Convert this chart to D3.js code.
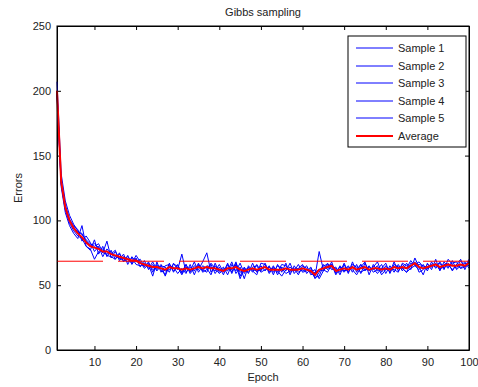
<!DOCTYPE html>
<html>
<head>
<meta charset="utf-8">
<script src="https://cdn.jsdelivr.net/npm/d3@7"></script>
<style>
  body { margin: 0; background: #fff; }
  text { font-family: "Liberation Sans", Arial, Helvetica, sans-serif; }
</style>
</head>
<body>
<div id="chart"></div>
<script>
// values (errors per epoch)
const epochs = d3.range(1, 101)
const xTicks = [10, 20, 30, 40, 50, 60, 70, 80, 90, 100]
const yTicks = [0, 50, 100, 150, 200, 250]
const refLevel = 68.5

const sample1 = [207,136,115,104,97,92,89,85,82,80, 82,75,84,71,76,70,74,66,72,68, 70,64,68,60,66,62,58,67,60,66,
  59,66,60,65,62,68,75,60,65,61, 64,58,66,61,67,59,64,60,66,61, 67,60,65,58,64,61,67,59,63,66,
  59,63,55,60,66,62,68,59,65,61, 65,60,66,59,67,61,64,68,60,65, 60,68,61,66,63,69,65,62,66,61, 68,63,67,62,70,66,63,69,64,70]
const sample2 = [200,126,106,96,90,86,96,80,77,85, 74,80,72,77,70,75,68,73,66,71, 64,69,62,66,61,65,64,60,67,62,
  74,60,64,61,67,60,62,66,59,64, 58,66,60,68,57,64,59,67,60,65, 61,65,58,66,60,67,58,65,60,62,
  65,58,60,62,61,67,63,64,58,66, 59,68,60,66,61,65,60,62,66,59, 65,60,66,61,67,62,71,64,58,67, 62,70,61,68,64,67,68,63,67,65]
const sample3 = [199,130,112,101,96,93,84,88,83,76, 80,72,78,74,77,69,72,70,67,73, 68,63,66,57,68,60,65,66,61,64,
  58,64,61,68,60,65,63,58,67,60, 63,61,68,59,64,55,65,61,58,67, 66,59,64,61,57,62,64,61,66,60,
  61,64,57,76,62,60,66,58,63,60, 64,62,58,64,68,58,66,61,63,67, 59,66,64,63,60,67,66,68,64,63, 66,64,68,63,67,61,66,70,62,69]
const sample4 = [197,129,108,98,92,88,86,80,78,70, 76,78,73,72,70,74,70,68,71,66, 65,67,63,68,62,66,57,65,64,59,
  63,59,66,58,66,61,65,64,61,66, 60,67,59,66,55,63,60,64,65,60, 62,64,60,65,63,59,61,63,58,65,
  63,60,56,57,65,66,62,63,60,67, 60,66,64,60,62,64,62,65,58,62, 63,62,60,67,65,64,68,60,62,66, 64,67,62,66,63,69,62,65,68,63]
const sample5 = [198,128,109,100,95,91,90,84,81,82, 79,75,74,76,72,71,69,72,68,70, 67,65,67,62,64,63,61,62,66,65,
  60,66,59,63,65,62,60,67,63,59, 62,63,62,67,60,62,63,62,61,62, 64,62,63,60,66,65,60,62,63,61,
  62,60,62,55,61,65,66,61,64,61, 62,64,62,66,62,62,63,59,63,62, 63,64,64,63,60,63,65,66,65,63, 65,66,62,66,66,62,66,63,64,68]
const average = [200,130,110,100,94,90,87,83,80,79, 78,76,76,74,73,72,71,70,69,69, 67,66,65,64,64,63,62,64,63,63,
  62,63,62,63,64,63,64,63,63,62, 61,63,63,64,62,61,62,63,62,63, 64,62,62,62,62,63,62,62,62,63,
  62,61,58,62,63,64,65,61,62,63, 62,64,62,63,64,62,63,63,62,63, 62,64,63,64,63,65,67,64,63,64, 65,66,64,65,66,65,65,66,65,67]

const series = [
  {name: "Sample 1", values: sample1, color: "#0000ff", width: 1},
  {name: "Sample 2", values: sample2, color: "#0000ff", width: 1},
  {name: "Sample 3", values: sample3, color: "#0000ff", width: 1},
  {name: "Sample 4", values: sample4, color: "#0000ff", width: 1},
  {name: "Sample 5", values: sample5, color: "#0000ff", width: 1},
  {name: "Average", values: average, color: "#ff0000", width: 2}
]

const W = 478, H = 387
const margin = {top: 26, right: 9, bottom: 37, left: 57}
const width = W - margin.left - margin.right,
      height = H - margin.top - margin.bottom

const svg = d3.select("#chart")
  .append("svg")
    .attr("width", W)
    .attr("height", H)

const g = svg.append("g")
    .attr("transform", `translate(${margin.left}, ${margin.top})`)

const xScale = d3.scaleLinear().domain([1, 100]).range([0, width])
const yScale = d3.scaleLinear().domain([0, 250]).range([height, 0])

// axes, ticks pointing inward
const bottomAxis = g.append("g")
  .attr("transform", `translate(0, ${height})`)
  .call(d3.axisBottom(xScale).tickValues(xTicks).tickSizeInner(-4).tickSizeOuter(0).tickPadding(8))
const leftAxis = g.append("g")
  .call(d3.axisLeft(yScale).tickValues(yTicks).tickSizeInner(-4).tickSizeOuter(0).tickPadding(6))
const topAxis = g.append("g")
  .call(d3.axisTop(xScale).tickValues(xTicks).tickSizeInner(-4).tickSizeOuter(0).tickFormat(""))
const rightAxis = g.append("g")
  .attr("transform", `translate(${width}, 0)`)
  .call(d3.axisRight(yScale).tickValues(yTicks).tickSizeInner(-4).tickSizeOuter(0).tickFormat(""))

;[bottomAxis, leftAxis, topAxis, rightAxis].forEach(ax => {
  ax.select(".domain").attr("stroke", "#000")
  ax.selectAll("line").attr("stroke", "#000")
  ax.selectAll("text").attr("font-size", 11).attr("fill", "#222")
    .style("font-family", '"Liberation Sans", Arial, sans-serif')
})

const line = d3.line()
  .x((d, i) => xScale(epochs[i]))
  .y(d => yScale(d))

g.append("g").selectAll("path")
  .data(series)
  .enter()
  .append("path")
    .attr("fill", "none")
    .attr("stroke", d => d.color)
    .attr("stroke-width", d => d.width)
    .attr("stroke-linejoin", "round")
    .attr("d", d => line(d.values))

// dashed reference level
g.append("line")
  .attr("x1", xScale(1)).attr("x2", xScale(100))
  .attr("y1", yScale(refLevel)).attr("y2", yScale(refLevel))
  .attr("stroke", "#ff0000")
  .attr("stroke-width", 1)
  .attr("stroke-dasharray", "46,15")

// frame on top
g.append("rect")
  .attr("width", width).attr("height", height)
  .attr("fill", "none").attr("stroke", "#000")

// title and labels
svg.append("text")
  .attr("x", margin.left + width / 2).attr("y", 16)
  .attr("text-anchor", "middle").attr("font-size", 11).attr("fill", "#222")
  .text("Gibbs sampling")
svg.append("text")
  .attr("x", margin.left + width / 2).attr("y", 381)
  .attr("text-anchor", "middle").attr("font-size", 11).attr("fill", "#222")
  .text("Epoch")
svg.append("text")
  .attr("transform", `translate(22, ${margin.top + height / 2}) rotate(-90)`)
  .attr("text-anchor", "middle").attr("font-size", 11).attr("fill", "#222")
  .text("Errors")

// legend
const legend = svg.append("g").attr("transform", "translate(348, 36)")
legend.append("rect")
  .attr("width", 118).attr("height", 111)
  .attr("fill", "#fff").attr("stroke", "#000")
const rows = legend.selectAll("g.row")
  .data(series)
  .enter()
  .append("g")
    .attr("class", "row")
    .attr("transform", (d, i) => `translate(0, ${Math.round(12 + i * 17.6)})`)
rows.append("line")
  .attr("x1", 8).attr("x2", 45)
  .attr("stroke", d => d.color)
  .attr("stroke-width", d => d.width)
rows.append("text")
  .attr("x", 50).attr("y", 4)
  .attr("font-size", 11).attr("fill", "#222")
  .text(d => d.name)
</script>
</body>
</html>
